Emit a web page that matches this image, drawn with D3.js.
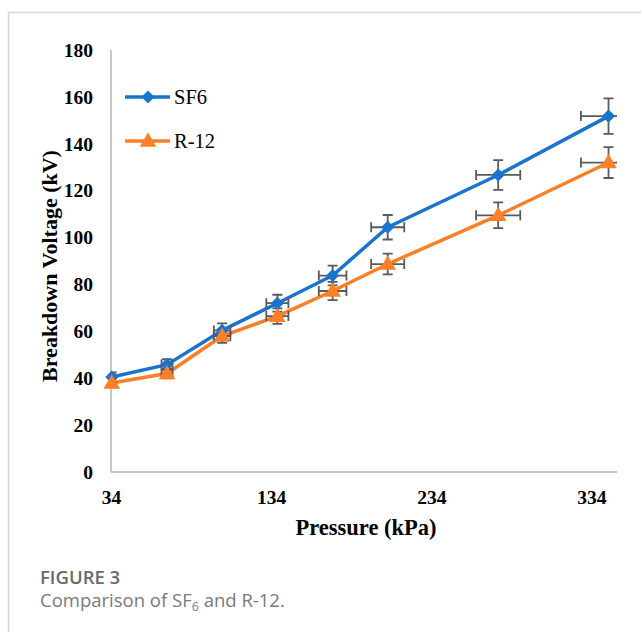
<!DOCTYPE html>
<html>
<head>
<meta charset="utf-8">
<script src="https://cdn.jsdelivr.net/npm/d3@7"></script>
<style>
	body { margin: 0; background: #fff; }
	svg { display: block; }
</style>
</head>
<body>
<script>
// Breakdown voltage vs pressure
const pressure = [34.5, 69, 103.4, 137.9, 172.4, 206.8, 275.8, 344.7]
const sf6 = [40.5, 45.8, 60.4, 72, 83.8, 104.4, 126.7, 151.8]
const r12 = [38, 42, 58, 66.5, 77.2, 88.7, 109.5, 132]
const errPct = 0.05
const xTicks = [34, 134, 234, 334]
const yTicks = [0, 20, 40, 60, 80, 100, 120, 140, 160, 180]
const seriesNames = ['SF6', 'R-12']
const colors = ['#1874cd', '#ff7f27']

const svgw = 641
const svgh = 632
const padL = 111, padR = 617, padT = 50, padB = 472

const svg = d3.select('body').append('svg').attr('width', svgw).attr('height', svgh)

// page frame
svg.append('path')
	.attr('d', `M8.5,${svgh} V12.5 H${svgw}`)
	.attr('fill', 'none')
	.attr('stroke', '#d6d6d6')
	.attr('stroke-width', 1.5)

const x = d3.scaleLinear().domain([34, 350]).range([padL, padR])
const y = d3.scaleLinear().domain([0, 180]).range([padB, padT])

svg.append('defs').append('clipPath').attr('id', 'plot')
	.append('rect').attr('x', padL).attr('y', padT).attr('width', padR - padL).attr('height', padB - padT)

// axes
const xAxis = d3.axisBottom(x).tickValues(xTicks).tickSize(0).tickPadding(18).tickFormat(d3.format('d'))
const yAxis = d3.axisLeft(y).tickValues(yTicks).tickSize(0).tickPadding(18)

const gx = svg.append('g').attr('transform', `translate(0,${padB})`).call(xAxis)
const gy = svg.append('g').attr('transform', `translate(${padL},0)`).call(yAxis)

for (const g of [gx, gy]) {
	g.select('.domain').attr('stroke', '#c8c8c8').attr('stroke-width', 2)
	g.selectAll('text')
		.attr('font-family', '"Liberation Serif", "Times New Roman", serif')
		.attr('font-weight', 'bold')
		.attr('font-size', 19.5)
		.attr('fill', '#000')
}
gy.select('.domain').attr('d', `M0,${padT}V${padB}`)
gx.select('.domain').attr('d', `M${padL},0H${padR}`)

svg.append('text')
	.attr('x', (padL + padR) / 2 + 2)
	.attr('y', 535)
	.attr('text-anchor', 'middle')
	.attr('font-family', '"Liberation Serif", "Times New Roman", serif')
	.attr('font-weight', 'bold')
	.attr('font-size', 22.5)
	.text('Pressure (kPa)')

svg.append('text')
	.attr('transform', `translate(57,${(padT + padB) / 2 + 5}) rotate(-90)`)
	.attr('text-anchor', 'middle')
	.attr('font-family', '"Liberation Serif", "Times New Roman", serif')
	.attr('font-weight', 'bold')
	.attr('font-size', 22)
	.text('Breakdown Voltage (kV)')

const series = [sf6, r12]
const line = d3.line().x((d, i) => x(pressure[i])).y(d => y(d))

const diamond = d3.symbol().type(d3.symbolDiamond2).size(110)
const triangle = d3.symbol().type(d3.symbolTriangle).size(120)
const shapes = [diamond, triangle]

const plot = svg.append('g').attr('clip-path', 'url(#plot)')

series.forEach((vals, s) => {
	plot.append('path')
		.datum(vals)
		.attr('d', line)
		.attr('fill', 'none')
		.attr('stroke', colors[s])
		.attr('stroke-width', 3.5)
		.attr('stroke-linejoin', 'round')
})

// error bars
const cap = 5
series.forEach((vals, s) => {
	const eb = plot.append('g').attr('stroke', '#5a5a5a').attr('stroke-width', 1.8).attr('fill', 'none')
	vals.forEach((v, i) => {
		const px = x(pressure[i]), py = y(v)
		const x0 = x(pressure[i] * (1 - errPct)), x1 = x(pressure[i] * (1 + errPct))
		const y0 = y(v * (1 - errPct)), y1 = y(v * (1 + errPct))
		eb.append('path').attr('d', `M${x0},${py}H${x1}M${x0},${py - cap}V${py + cap}M${x1},${py - cap}V${py + cap}`)
		eb.append('path').attr('d', `M${px},${y0}V${y1}M${px - cap},${y0}H${px + cap}M${px - cap},${y1}H${px + cap}`)
	})
})

series.forEach((vals, s) => {
	svg.append('g').selectAll('path')
		.data(vals)
		.enter()
		.append('path')
		.attr('d', shapes[s])
		.attr('transform', (d, i) => `translate(${x(pressure[i])},${y(d) + (s === 1 ? 1 : 0)})`)
		.attr('fill', colors[s])
})

// legend
const legendY = [97, 141]
seriesNames.forEach((name, s) => {
	const g = svg.append('g').attr('transform', `translate(125,${legendY[s]})`)
	g.append('line').attr('x1', 0).attr('x2', 45).attr('stroke', colors[s]).attr('stroke-width', 3.5)
	g.append('path').attr('d', shapes[s]).attr('transform', `translate(23,${s === 1 ? 1 : 0})`).attr('fill', colors[s])
	g.append('text')
		.attr('x', 49)
		.attr('y', 7)
		.attr('font-family', '"Liberation Serif", "Times New Roman", serif')
		.attr('font-size', 20.5)
		.text(name)
})

// caption
svg.append('text')
	.attr('x', 40).attr('y', 584)
	.attr('font-family', '"Open Sans", sans-serif')
	.attr('font-weight', 600)
	.attr('font-size', 18.5)
	.attr('fill', '#6a6a6a')
	.text('FIGURE 3')

const cap2 = svg.append('text')
	.attr('x', 40).attr('y', 607)
	.attr('font-family', '"Open Sans", sans-serif')
	.attr('font-size', 18.5)
	.attr('fill', '#7a7a7a')
cap2.append('tspan').text('Comparison of SF')
cap2.append('tspan').attr('font-size', 12.5).attr('dy', 4).text('6')
cap2.append('tspan').attr('dy', -4).text(' and R-12.')
</script>
</body>
</html>
